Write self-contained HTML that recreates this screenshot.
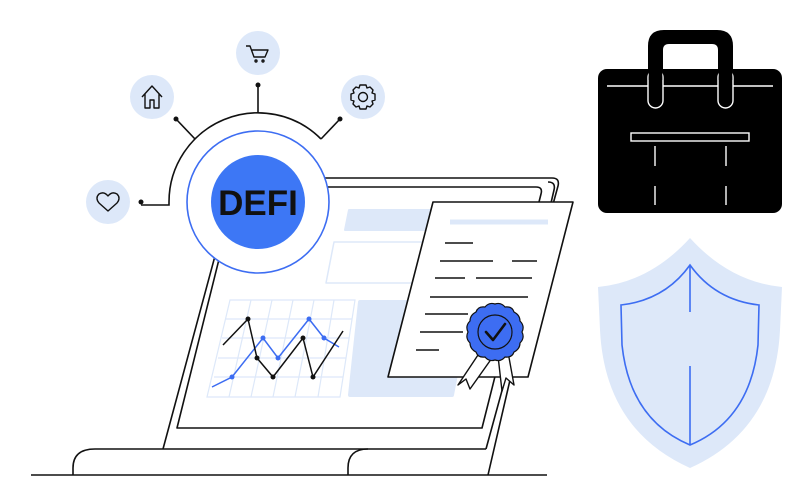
<!DOCTYPE html>
<html><head><meta charset="utf-8"><style>html,body{margin:0;padding:0;background:#fff}svg{display:block}</style></head>
<body>
<svg width="810" height="500" viewBox="0 0 810 500" xmlns="http://www.w3.org/2000/svg">
<g fill="none" stroke="#111" stroke-width="1.6" stroke-linejoin="round">
<!-- ground & base -->
<line x1="31" y1="475" x2="547" y2="475"/>
<path d="M73,475 V468 Q73,449 95,449 H486"/>
<path d="M348,475 V468 Q348,449 368,449"/>
<!-- lid -->
<path d="M163,449 L236,178 H552 Q560,178 558,186 L486,449"/>
<path d="M548,182 Q556,182 554,190 L488,475"/>
<path d="M177,428 L237,187 H536 Q543,187 541,194 L482,428 Z"/>
</g>
<!-- screen contents -->
<path d="M349,210 H432 L428,230 H345 Z" fill="#dde8f9" stroke="#dde8f9" stroke-width="2" stroke-linejoin="round"/>
<path d="M334,242 H424 L414,283 H326 Z" fill="none" stroke="#dde8f9" stroke-width="1.5" stroke-linejoin="round"/>
<path d="M360,302 H470 L452,395 H350 Z" fill="#dde8f9" stroke="#dde8f9" stroke-width="4" stroke-linejoin="round"/>
<g stroke="#dde8f9" stroke-width="1.2" fill="none">
<path d="M230,300 H355 L340,397 H207 Z"/>
<line x1="226" y1="319" x2="352" y2="319"/><line x1="222" y1="338" x2="349" y2="338"/><line x1="218" y1="358" x2="346" y2="358"/><line x1="214" y1="377" x2="343" y2="377"/>
<line x1="251" y1="300" x2="229" y2="397"/><line x1="272" y1="300" x2="251" y2="397"/><line x1="293" y1="300" x2="273" y2="397"/><line x1="314" y1="300" x2="295" y2="397"/><line x1="334" y1="300" x2="318" y2="397"/>
</g>
<polyline points="212,387 232,377 263,338 278,358 309,319 324,338 339,347" fill="none" stroke="#3d6df2" stroke-width="1.5"/>
<g fill="#3d6df2"><circle cx="232" cy="377" r="2.5"/><circle cx="263" cy="338" r="2.5"/><circle cx="278" cy="358" r="2.5"/><circle cx="309" cy="319" r="2.5"/><circle cx="324" cy="338" r="2.5"/></g>
<polyline points="223,345 248,319 257,358 273,377 303,338 313,377 343,331" fill="none" stroke="#111" stroke-width="1.5"/>
<g fill="#111"><circle cx="248" cy="319" r="2.5"/><circle cx="257" cy="358" r="2.5"/><circle cx="273" cy="377" r="2.5"/><circle cx="303" cy="338" r="2.5"/><circle cx="313" cy="377" r="2.5"/></g>
<!-- certificate -->
<path d="M433,202 H573 L528,377 H388 Z" fill="#fff" stroke="#111" stroke-width="1.6" stroke-linejoin="round"/>
<line x1="450" y1="222" x2="548" y2="222" stroke="#dde8f9" stroke-width="5"/>
<g stroke="#111" stroke-width="1.5">
<line x1="445" y1="243" x2="473" y2="243"/><line x1="440" y1="261" x2="493" y2="261"/><line x1="512" y1="261" x2="537" y2="261"/>
<line x1="435" y1="278" x2="465" y2="278"/><line x1="476" y1="278" x2="532" y2="278"/><line x1="430" y1="297" x2="528" y2="297"/>
<line x1="425" y1="314" x2="468" y2="314"/><line x1="420" y1="332" x2="463" y2="332"/><line x1="416" y1="350" x2="439" y2="350"/>
</g>
<!-- seal ribbons -->
<g fill="#fff" stroke="#111" stroke-width="1.4" stroke-linejoin="round">
<path d="M480,352 L492,358 L470,389 L466,379 L458,385 Z"/>
<path d="M498,356 L508,352 L514,385 L506,378 L502,391 Z"/>
</g>
<g fill="#3d6df2" stroke="#111" stroke-width="1.2">
<path d="M495,304 Q501,302 505,307 Q512,306 514,312 Q520,315 520,321 Q525,326 522,332 Q525,338 520,343 Q520,349 514,352 Q512,358 505,357 Q501,362 495,360 Q489,362 485,357 Q478,358 476,352 Q470,349 470,343 Q465,338 468,332 Q465,326 470,321 Q470,315 476,312 Q478,306 485,307 Q489,302 495,304 Z"/>
<circle cx="495" cy="332" r="17" fill="#3d6df2"/>
</g>
<path d="M486,332 L493,340 L505,324" fill="none" stroke="#111" stroke-width="2.6" stroke-linecap="round" stroke-linejoin="round"/>
<!-- hub -->
<circle cx="258" cy="202" r="71" fill="#fff" stroke="#3d6df2" stroke-width="1.6"/>
<circle cx="258" cy="202" r="47" fill="#3d77f5"/>
<text x="258" y="215" text-anchor="middle" font-family="'Liberation Sans','DejaVu Sans',sans-serif" font-weight="bold" font-size="35" fill="#111">DEFI</text>
<g fill="none" stroke="#111" stroke-width="1.6">
<path d="M321,139 A89,89 0 0 0 169,202 V205 H141"/>
<line x1="176" y1="119" x2="195" y2="139"/>
<line x1="258" y1="85" x2="258" y2="113"/>
<line x1="340" y1="119" x2="321" y2="139"/>
</g>
<g fill="#111"><circle cx="141" cy="202" r="2.5"/><circle cx="176" cy="119" r="2.5"/><circle cx="258" cy="85" r="2.5"/><circle cx="340" cy="119" r="2.5"/></g>
<g fill="#dde8f9"><circle cx="108" cy="202" r="22"/><circle cx="152" cy="97" r="22"/><circle cx="258" cy="53" r="22"/><circle cx="363" cy="97" r="22"/></g>
<g fill="none" stroke="#111" stroke-width="1.4" stroke-linejoin="round">
<path d="M108,211 L99,203 Q95,198 99,194 Q104,191 108,196 Q112,191 117,194 Q121,198 117,203 Z"/>
<path d="M142,97 L152,86 L162,97 M145,94 V108 H150 V100 H154 V108 H159 V94"/>
<path d="M246,46 H250 L254,57 H265 L268,50 H251"/>
<circle cx="256" cy="61" r="1"/><circle cx="263" cy="61" r="1"/>
<path d="M360,85 h6 l1,3 3,-1 3,3 -1,3 3,1 v6 l-3,1 1,3 -3,3 -3,-1 -1,3 h-6 l-1,-3 -3,1 -3,-3 1,-3 -3,-1 v-6 l3,-1 -1,-3 3,-3 3,1 Z"/>
<circle cx="363" cy="97" r="4.5"/>
</g>
<!-- bag -->
<path d="M648,108 V46 Q648,30 664,30 H717 Q733,30 733,46 V108 H718 V50 Q718,44 712,44 H669 Q663,44 663,50 V108 Z" fill="#000"/>
<rect x="598" y="69" width="184" height="144" rx="9" fill="#000"/>
<line x1="607" y1="86" x2="773" y2="86" stroke="#fff" stroke-width="1.4"/>
<rect x="648" y="70" width="15" height="38" rx="7.5" fill="#000" stroke="#fff" stroke-width="1.4"/>
<rect x="718" y="70" width="15" height="38" rx="7.5" fill="#000" stroke="#fff" stroke-width="1.4"/>
<rect x="648.7" y="60" width="13.6" height="20" fill="#000"/>
<rect x="718.7" y="60" width="13.6" height="20" fill="#000"/>
<rect x="631" y="133" width="118" height="8" fill="none" stroke="#fff" stroke-width="1.4"/>
<g stroke="#fff" stroke-width="1.4"><line x1="655" y1="146" x2="655" y2="166"/><line x1="726" y1="146" x2="726" y2="166"/><line x1="655" y1="186" x2="655" y2="205"/><line x1="726" y1="186" x2="726" y2="205"/></g>
<!-- shield -->
<path d="M690,238 Q650,282 598,287 L600,330 Q605,430 690,468 Q775,430 780,330 L782,287 Q730,282 690,238 Z" fill="#dde8f9"/>
<path d="M690,265 Q665,300 621,305 L622,345 Q630,420 690,445 Q750,420 758,345 L759,305 Q715,300 690,265 Z M690,265 V312 M690,366 V445" fill="none" stroke="#3d6df2" stroke-width="1.6"/>
</svg>
</body></html>
